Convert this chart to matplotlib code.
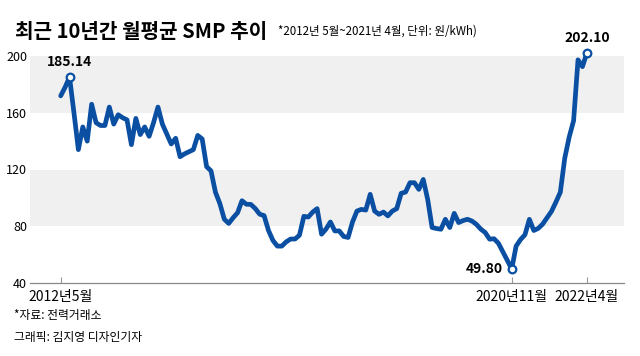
import matplotlib
matplotlib.use('Agg')
import matplotlib.pyplot as plt
import numpy as np

plt.rcParams['font.family'] = ['Noto Sans CJK KR', 'DejaVu Sans']

# monthly average SMP, 2012-05 .. 2022-04 (won/kWh)
smp = [
    171.9, 178.0, 185.14, 160.0, 134.0, 150.0, 140.0, 166.0, 153.0, 151.0,
    151.0, 164.0, 152.0, 158.6, 156.5, 155.0, 137.5, 156.0, 144.6, 150.0,
    143.4, 153.0, 164.0, 152.0, 145.0, 138.0, 142.0, 129.0, 131.0, 132.5,
    134.0, 144.0, 141.5, 122.0, 119.0, 104.0, 96.0, 85.0, 82.0, 86.0,
    89.5, 98.0, 95.5, 95.4, 92.5, 88.5, 87.5, 77.0, 70.0, 66.0,
    66.0, 69.0, 71.0, 71.0, 73.7, 87.0, 86.5, 90.0, 92.4, 74.4,
    78.0, 83.0, 76.7, 76.7, 72.8, 72.1, 83.0, 90.7, 91.9, 91.4,
    102.5, 90.7, 88.4, 90.0, 87.3, 90.7, 92.4, 103.2, 104.1, 110.7,
    110.7, 106.0, 113.0, 98.9, 79.1, 78.4, 77.9, 84.9, 79.1, 89.1,
    82.6, 84.0, 84.9, 83.7, 81.4, 78.0, 75.6, 70.9, 71.2, 68.0,
    62.0, 56.0, 49.80, 66.0, 70.6, 74.0, 84.9, 77.0, 78.5, 81.5,
    86.0, 90.5, 97.0, 104.0, 128.0, 142.8, 154.4, 197.3, 192.5, 202.10,
]
months = np.arange(len(smp))
tick_pos = [0, 102, 119]
tick_labels = ['2012년5월', '2020년11월', '2022년4월']
highlights = {2: '185.14', 102: '49.80', 119: '202.10'}

blue = '#0b4fa3'

fig = plt.figure(figsize=(6.4, 3.56), dpi=100)
ax = fig.add_axes([30 / 640, 1 - 283 / 356, 594 / 640, 227 / 356])

ax.axhspan(160, 200, color='#f0f0f0', lw=0, zorder=0)
ax.axhspan(80, 120, color='#f0f0f0', lw=0, zorder=0)

ax.plot(months, smp, color=blue, lw=3.4, solid_joinstyle='round',
        solid_capstyle='round', zorder=2, clip_on=False)
for i in highlights:
    ax.plot(months[i], smp[i], 'o', ms=5.5, mfc='white', mec=blue, mew=1.6,
            zorder=3, clip_on=False)

ax.annotate(highlights[2], (months[2], smp[2]), xytext=(0, 6), textcoords='offset points',
            ha='center', va='bottom', fontsize=10, fontweight='bold', annotation_clip=False)
ax.annotate(highlights[119], (months[119], smp[119]), xytext=(0, 6), textcoords='offset points',
            ha='center', va='bottom', fontsize=10, fontweight='bold', annotation_clip=False)
ax.annotate(highlights[102], (months[102], smp[102]), xytext=(-6, 0), textcoords='offset points',
            ha='right', va='center', fontsize=10, fontweight='bold', annotation_clip=False)

ax.set_xlim(-6.94, 127.4)
ax.set_ylim(40, 200)
ax.set_yticks([40, 80, 120, 160, 200])
ax.set_xticks(tick_pos)
ax.set_xticklabels(tick_labels, fontsize=10)
ax.tick_params(axis='y', length=0, labelsize=9, pad=2)
ax.tick_params(axis='x', direction='in', length=4, color='#999999', pad=5)

for s in ['top', 'right', 'left']:
    ax.spines[s].set_visible(False)
ax.spines['bottom'].set_color('#888888')
ax.spines['bottom'].set_linewidth(0.9)

fig.text(15 / 640, 1 - 31 / 356, '최근 10년간 월평균 SMP 추이', fontsize=14.5,
         fontweight='bold', va='center', ha='left')
fig.text(278 / 640, 1 - 31 / 356, '*2012년 5월~2021년 4월, 단위: 원/kWh)', fontsize=8.3,
         va='center', ha='left')
fig.text(14 / 640, 1 - 316 / 356, '*자료: 전력거래소', fontsize=8.5, va='center', ha='left')
fig.text(14 / 640, 1 - 337 / 356, '그래픽: 김지영 디자인기자', fontsize=8.5, va='center', ha='left')

fig.savefig('out.png', dpi=100)
